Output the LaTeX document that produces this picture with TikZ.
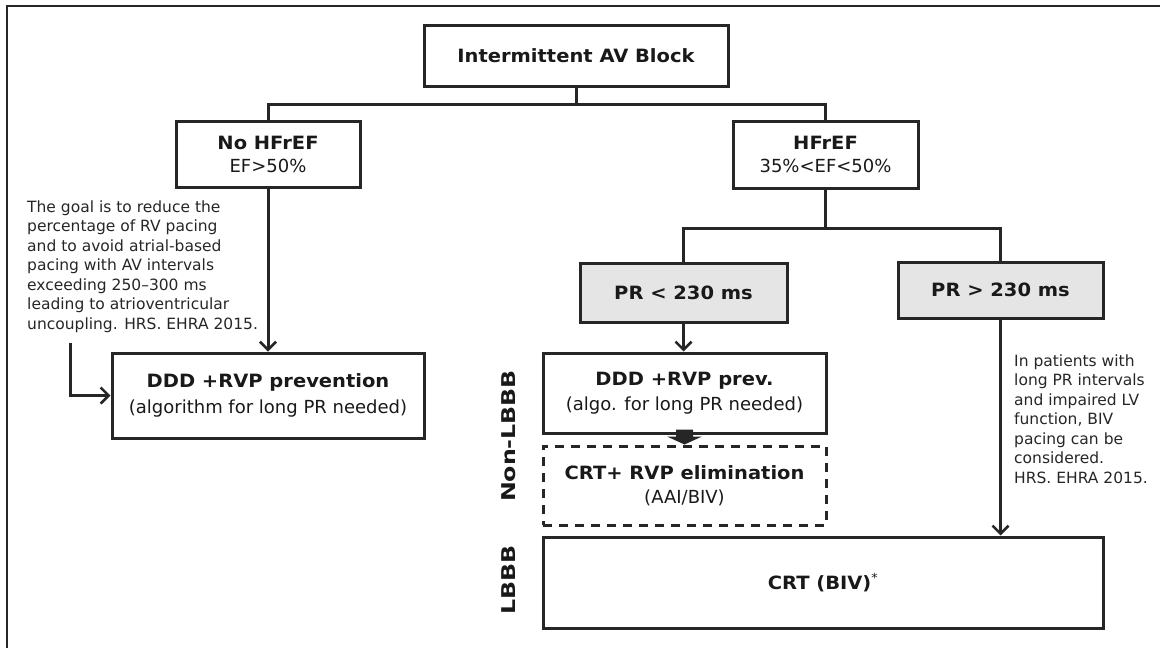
\documentclass[tikz,border=0pt]{standalone}
\usepackage{fontspec}
\setmainfont{DejaVu Sans}[BoldFeatures={FakeStretch=1.065}]
\usetikzlibrary{arrows.meta,calc}
\newcommand\bfx[1]{{\fontsize{18.3}{22}\selectfont\bfseries #1}}
\begin{document}
\begin{tikzpicture}[x=1pt,y=-1pt,
  box/.style={draw=black!85,line width=3pt,align=center,inner sep=0pt,font=\fontsize{18}{25}\selectfont,text=black!90},
  gbox/.style={box,fill=black!10},
  conn/.style={draw=black!85,line width=3pt},
  arr/.style={conn,-{Straight Barb[length=8pt,width=16pt,line width=2.6pt]}},
  note/.style={align=left,font=\fontsize{15.5}{19.5}\selectfont,anchor=north west,inner sep=0pt,text=black!85},
  side/.style={font=\fontsize{19}{22}\selectfont\bfseries,rotate=90,text=black!90}]
\useasboundingbox (0,0) rectangle (1160,648);
\draw[line width=2.5pt,black!85] (7,660) -- (7,6) -- (1170,6);
% nodes
\node[box,minimum width=304pt,minimum height=61pt] (top) at (576,55.5) {\bfx{Intermittent AV Block}};
\node[box,minimum width=184pt,minimum height=66pt] (nohf) at (268,154) {\bfx{No HFrEF}\\[-2pt]EF>50\%};
\node[box,minimum width=185pt,minimum height=67pt] (hf) at (825.5,154.5) {\bfx{HFrEF}\\[-2pt]35\%<EF<50\%};
\node[gbox,minimum width=207pt,minimum height=59pt] (pr1) at (683.5,292.5) {\bfx{PR < 230 ms}};
\node[gbox,minimum width=205pt,minimum height=56pt] (pr2) at (1000.5,290) {\bfx{PR > 230 ms}};
\node[box,minimum width=312pt,minimum height=85pt] (ddd1) at (268,395.5) {\bfx{DDD +RVP prevention}\\[1pt](algorithm for long PR needed)};
\node[box,minimum width=283pt,minimum height=80pt] (ddd2) at (684.5,393) {\bfx{DDD +RVP prev.}\\[0pt](algo. for long PR needed)};
\node[box,dashed,dash pattern=on 9pt off 7pt,minimum width=283pt,minimum height=79pt] (crtd) at (684.5,485.5) {\bfx{CRT+ RVP elimination}\\[-1pt](AAI/BIV)};
\node[box,minimum width=560pt,minimum height=91pt] (crt) at (823,582.5) {\bfx{CRT (BIV)}\textsuperscript{*}};
\node[side] (nonl) at (509,436) {\scalebox{1.17}[1]{Non-LBBB}};
\node[side] (lbbb) at (509,580) {\scalebox{1.17}[1]{LBBB}};
\node[note] (note1) at (27,200.5) {The goal is to reduce the\\percentage of RV pacing\\and to avoid atrial-based\\pacing with AV intervals\\exceeding 250--300 ms\\leading to atrioventricular\\uncoupling. HRS. EHRA 2015.};
\node[note] (note2) at (1014,354.5) {In patients with\\long PR intervals\\and impaired LV\\function, BIV\\pacing can be\\considered.\\HRS. EHRA 2015.};
% connectors
\coordinate (j1) at ($(top.south)+(0,17)$);
\draw[conn] (top.south) -- (j1);
\draw[conn] (nohf.north) -- (nohf.north |- j1) -| (hf.north);
\coordinate (j2) at ($(hf.south)+(0,39)$);
\draw[conn] (hf.south) -- (j2);
\draw[conn] (pr1.north) -- (pr1.north |- j2) -| (pr2.north);
\draw[arr] (nohf.south) -- (ddd1.north);
\draw[arr] (pr1.south) -- (pr1.south |- ddd2.north);
\draw[arr] (pr2.south) -- (pr2.south |- crt.north);
\coordinate (e1) at (70,343);
\draw[arr] (e1) |- (ddd1.west);
\fill[black!85] ($(ddd2.south)+(-8.5,-5)$) -- ($(ddd2.south)+(8.5,-5)$) -- ($(ddd2.south)+(8.5,2)$) -- ($(ddd2.south)+(17.5,2)$) -- ($(ddd2.south)+(0,10)$) -- ($(ddd2.south)+(-17.5,2)$) -- ($(ddd2.south)+(-8.5,2)$) -- cycle;
\end{tikzpicture}
\end{document}
